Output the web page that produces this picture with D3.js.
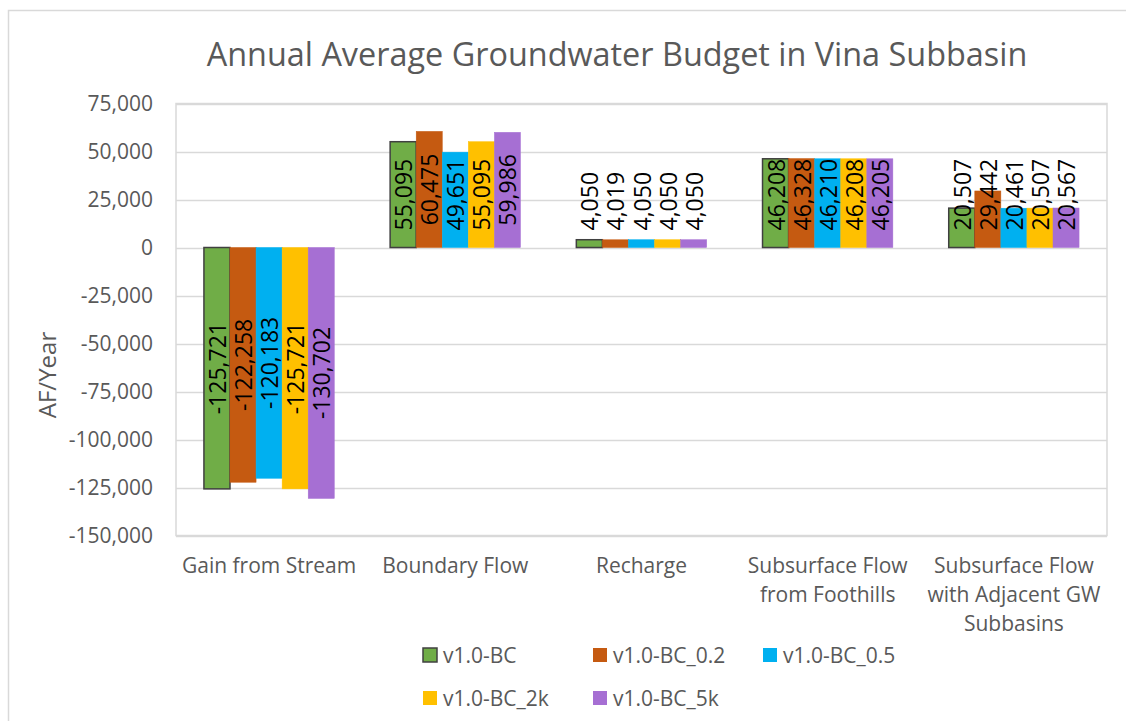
<!DOCTYPE html>
<html>
<head>
<meta charset="utf-8">
<script src="https://cdn.jsdelivr.net/npm/d3@7"></script>
<style>
  body { margin: 0; background: #fff; }
  svg text { font-family: "Open Sans", "Noto Sans", sans-serif; }
</style>
</head>
<body>
<div id="chart"></div>
<script>
// chart data
const categories = [
  ['Gain from Stream'],
  ['Boundary Flow'],
  ['Recharge'],
  ['Subsurface Flow', 'from Foothills'],
  ['Subsurface Flow', 'with Adjacent GW', 'Subbasins']
];
const seriesNames = ['v1.0-BC', 'v1.0-BC_0.2', 'v1.0-BC_0.5', 'v1.0-BC_2k', 'v1.0-BC_5k'];
const seriesColors = ['#70ad47', '#c55a11', '#00b0f0', '#ffc000', '#a66fd3'];
const bc = [-125721, 55095, 4050, 46208, 20507];
const bc02 = [-122258, 60475, 4019, 46328, 29442];
const bc05 = [-120183, 49651, 4050, 46210, 20461];
const bc2k = [-125721, 55095, 4050, 46208, 20507];
const bc5k = [-130702, 59986, 4050, 46205, 20567];
const yTicks = [75000, 50000, 25000, 0, -25000, -50000, -75000, -100000, -125000, -150000];

const seriesValues = [bc, bc02, bc05, bc2k, bc5k];

const W = 1126, H = 721;
const plot = { left: 176, right: 1107, top: 103.5, bottom: 535.5 };

const svg = d3.select('#chart').append('svg')
  .attr('width', W)
  .attr('height', H);

// outer chart border
svg.append('rect')
  .attr('x', 8.5).attr('y', 10.5)
  .attr('width', W + 20).attr('height', H + 20)
  .attr('fill', '#fff')
  .attr('stroke', '#d9d9d9')
  .attr('stroke-width', 1.5);

svg.append('text')
  .attr('x', 617).attr('y', 66)
  .attr('text-anchor', 'middle')
  .attr('fill', '#595959')
  .style('font-size', '32.4px')
  .text('Annual Average Groundwater Budget in Vina Subbasin');

const y = d3.scaleLinear().domain([-150000, 75000]).range([plot.bottom, plot.top]);
const x0 = d3.scaleBand()
  .domain(d3.range(categories.length))
  .range([plot.left, plot.right])
  .paddingInner(0.3)
  .paddingOuter(0.15);
const x1 = d3.scaleBand()
  .domain(d3.range(seriesNames.length))
  .range([0, x0.bandwidth()]);

// excel style numbers with a plain hyphen
const comma = d3.format(',');
const fmt = d => comma(d).replace('\u2212', '-');

// gridlines
svg.append('g')
  .selectAll('line')
  .data(yTicks)
  .enter().append('line')
  .attr('x1', plot.left).attr('x2', plot.right)
  .attr('y1', d => Math.round(y(d)) + 0.5)
  .attr('y2', d => Math.round(y(d)) + 0.5)
  .attr('stroke', '#d9d9d9')
  .attr('stroke-width', 1.5);

// plot area border
svg.append('rect')
  .attr('x', plot.left).attr('y', plot.top)
  .attr('width', plot.right - plot.left)
  .attr('height', plot.bottom - plot.top)
  .attr('fill', 'none')
  .attr('stroke', '#d9d9d9')
  .attr('stroke-width', 1.5);

// y axis labels
const yAxis = d3.axisLeft(y).tickValues(yTicks).tickSize(0).tickPadding(23).tickFormat(fmt);
const yg = svg.append('g')
  .attr('transform', `translate(${plot.left},0)`)
  .call(yAxis);
yg.select('.domain').remove();
yg.selectAll('text')
  .attr('fill', '#595959')
  .style('font-family', '"Open Sans", sans-serif')
  .style('font-size', '21px');

svg.append('text')
  .attr('transform', 'translate(56,375) rotate(-90)')
  .attr('text-anchor', 'middle')
  .attr('fill', '#595959')
  .style('font-size', '24px')
  .text('AF/Year');

// bars
const y0 = y(0);
seriesValues.forEach((vals, s) => {
  const g = svg.append('g');
  g.selectAll('rect')
    .data(vals)
    .enter().append('rect')
    .attr('x', (d, i) => x0(i) + x1(s))
    .attr('y', d => Math.min(y(d), y0))
    .attr('width', x1.bandwidth())
    .attr('height', d => Math.abs(y(d) - y0))
    .attr('fill', seriesColors[s])
    .attr('stroke', s === 0 ? '#404040' : seriesColors[s])
    .attr('stroke-width', s === 0 ? 1.5 : 0.5);
});

// data labels (rotated)
seriesValues.forEach((vals, s) => {
  vals.forEach((d, i) => {
    const cx = x0(i) + x1(s) + x1.bandwidth() / 2;
    const t = svg.append('text')
      .attr('text-anchor', 'middle')
      .attr('dominant-baseline', 'central')
      .attr('fill', '#000')
      .style('font-size', '23px')
      .text(fmt(d));
    const len = t.node().getComputedTextLength();
    let cy = (y(d) + y0) / 2;
    if (d > 0) cy = Math.min(cy, y0 - 17 - len / 2);
    t.attr('transform', `translate(${cx},${cy}) rotate(-90)`);
  });
});

// category labels
categories.forEach((lines, i) => {
  const t = svg.append('text')
    .attr('text-anchor', 'middle')
    .attr('fill', '#595959')
    .style('font-size', '21px');
  lines.forEach((ln, k) => {
    t.append('tspan')
      .attr('x', x0(i) + x0.bandwidth() / 2)
      .attr('y', 573 + k * 29)
      .text(ln);
  });
});

// legend
const legend = svg.append('g');
seriesNames.forEach((name, s) => {
  const row = Math.floor(s / 3), col = s % 3;
  const lx = 423 + col * 170, ly = 655 + row * 43;
  legend.append('rect')
    .attr('x', lx).attr('y', ly - 7)
    .attr('width', 14).attr('height', 14)
    .attr('fill', seriesColors[s])
    .attr('stroke', s === 0 ? '#404040' : 'none')
    .attr('stroke-width', 1.5);
  legend.append('text')
    .attr('x', lx + 20).attr('y', ly)
    .attr('dominant-baseline', 'central')
    .attr('fill', '#595959')
    .style('font-size', '21px')
    .text(name);
});
</script>
</body>
</html>
